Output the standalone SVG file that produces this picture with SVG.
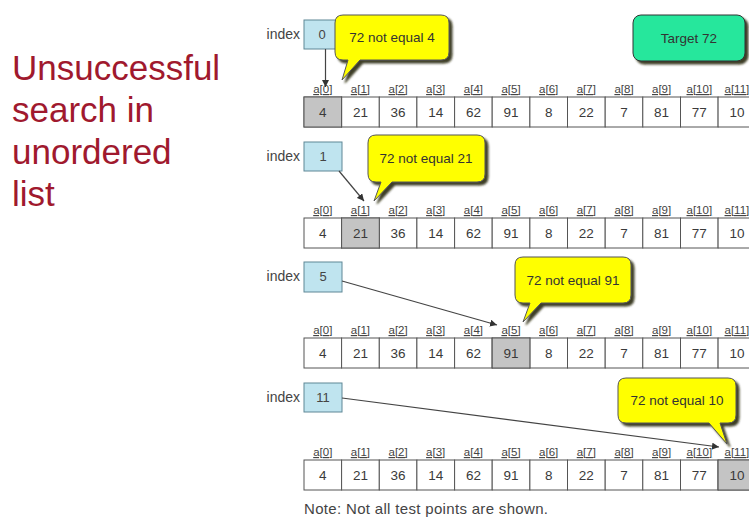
<svg xmlns="http://www.w3.org/2000/svg" xmlns:xlink="http://www.w3.org/1999/xlink" width="749" height="520" viewBox="0 0 749 520">
<style>
.title{font-family:"Liberation Sans",Arial,sans-serif;font-size:35px;fill:#a0192e}
.idx{font-family:"Liberation Sans",Arial,sans-serif;font-size:14px;fill:#444;text-anchor:end}
.ibox{fill:#bfe4ef;stroke:#5f8796;stroke-width:1}
.inum{font-family:"Liberation Sans",Arial,sans-serif;font-size:13px;fill:#444;text-anchor:middle}
.cell{fill:#fff;stroke:#555;stroke-width:1}
.hcell{fill:#c4c4c4;stroke:#555;stroke-width:1}
.num{font-family:"Liberation Sans",Arial,sans-serif;font-size:13.5px;fill:#3a3a3a;text-anchor:middle}
.lbl{font-family:"Liberation Sans",Arial,sans-serif;font-size:11.5px;fill:#444;text-anchor:middle;text-decoration:underline}
.call{fill:#ffff00;stroke:#555;stroke-width:1;filter:url(#sh)}
.ctxt{font-family:"Liberation Sans",Arial,sans-serif;font-size:13.5px;fill:#333;text-anchor:middle}
.conn{stroke:#444;stroke-width:1.2;fill:none;marker-end:url(#ah)}
.note{font-family:"Liberation Sans",Arial,sans-serif;font-size:15px;fill:#444}
</style>
<defs>
<filter id="sh" x="-10%" y="-10%" width="130%" height="140%">
<feDropShadow dx="3" dy="3" stdDeviation="0.8" flood-color="#2a2a10" flood-opacity="0.9"/>
</filter>
<marker id="ah" viewBox="0 0 10 10" refX="10" refY="5" markerWidth="7" markerHeight="7" markerUnits="userSpaceOnUse" orient="auto">
<path d="M0,0 L10,5 L0,10 z" fill="#333"/>
</marker>
<g id="arr">
<rect class="cell" x="304" y="0" width="37.6" height="30"/>
<rect class="cell" x="341.6" y="0" width="37.7" height="30"/>
<rect class="cell" x="379.3" y="0" width="37.6" height="30"/>
<rect class="cell" x="416.9" y="0" width="37.7" height="30"/>
<rect class="cell" x="454.6" y="0" width="37.6" height="30"/>
<rect class="cell" x="492.2" y="0" width="37.7" height="30"/>
<rect class="cell" x="529.9" y="0" width="37.6" height="30"/>
<rect class="cell" x="567.5" y="0" width="37.7" height="30"/>
<rect class="cell" x="605.2" y="0" width="37.6" height="30"/>
<rect class="cell" x="642.8" y="0" width="37.7" height="30"/>
<rect class="cell" x="680.5" y="0" width="37.6" height="30"/>
<rect class="cell" x="718.1" y="0" width="37.7" height="30"/>
<text class="lbl" x="322.8" y="-4">a[0]</text>
<text class="lbl" x="360.4" y="-4">a[1]</text>
<text class="lbl" x="398.1" y="-4">a[2]</text>
<text class="lbl" x="435.7" y="-4">a[3]</text>
<text class="lbl" x="473.4" y="-4">a[4]</text>
<text class="lbl" x="511" y="-4">a[5]</text>
<text class="lbl" x="548.7" y="-4">a[6]</text>
<text class="lbl" x="586.3" y="-4">a[7]</text>
<text class="lbl" x="624" y="-4">a[8]</text>
<text class="lbl" x="661.6" y="-4">a[9]</text>
<text class="lbl" x="699.3" y="-4">a[10]</text>
<text class="lbl" x="736.9" y="-4">a[11]</text>
</g>
</defs>
<rect width="749" height="520" fill="#fff"/>

<g id="title">
<text class="title" x="12" y="80">Unsuccessful</text>
<text class="title" x="12" y="122">search in</text>
<text class="title" x="12" y="164">unordered</text>
<text class="title" x="12" y="206">list</text>
</g>

<!-- Row 1 -->
<g id="array1" transform="translate(0,97)">
<use xlink:href="#arr"/>
<rect class="hcell" x="304" y="0" width="37.6" height="30"/>
<text class="num" x="322.8" y="20">4</text><text class="num" x="360.4" y="20">21</text><text class="num" x="398.1" y="20">36</text><text class="num" x="435.7" y="20">14</text><text class="num" x="473.4" y="20">62</text><text class="num" x="511" y="20">91</text><text class="num" x="548.7" y="20">8</text><text class="num" x="586.3" y="20">22</text><text class="num" x="624" y="20">7</text><text class="num" x="661.6" y="20">81</text><text class="num" x="699.3" y="20">77</text><text class="num" x="736.9" y="20">10</text>
</g>
<g id="index1">
<text class="idx" x="300" y="39">index</text>
<rect class="ibox" x="304" y="20" width="38" height="29"/>
<text class="inum" x="322" y="39">0</text>
</g>

<!-- Row 2 -->
<g id="array2" transform="translate(0,218)">
<use xlink:href="#arr"/>
<rect class="hcell" x="341.6" y="0" width="37.7" height="30"/>
<text class="num" x="322.8" y="20">4</text><text class="num" x="360.4" y="20">21</text><text class="num" x="398.1" y="20">36</text><text class="num" x="435.7" y="20">14</text><text class="num" x="473.4" y="20">62</text><text class="num" x="511" y="20">91</text><text class="num" x="548.7" y="20">8</text><text class="num" x="586.3" y="20">22</text><text class="num" x="624" y="20">7</text><text class="num" x="661.6" y="20">81</text><text class="num" x="699.3" y="20">77</text><text class="num" x="736.9" y="20">10</text>
</g>
<g id="index2">
<text class="idx" x="300" y="161">index</text>
<rect class="ibox" x="304" y="142" width="38" height="29"/>
<text class="inum" x="323" y="161">1</text>
</g>

<!-- Row 3 -->
<g id="array3" transform="translate(0,338)">
<use xlink:href="#arr"/>
<rect class="hcell" x="492.2" y="0" width="37.7" height="30"/>
<text class="num" x="322.8" y="20">4</text><text class="num" x="360.4" y="20">21</text><text class="num" x="398.1" y="20">36</text><text class="num" x="435.7" y="20">14</text><text class="num" x="473.4" y="20">62</text><text class="num" x="511" y="20">91</text><text class="num" x="548.7" y="20">8</text><text class="num" x="586.3" y="20">22</text><text class="num" x="624" y="20">7</text><text class="num" x="661.6" y="20">81</text><text class="num" x="699.3" y="20">77</text><text class="num" x="736.9" y="20">10</text>
</g>
<g id="index3">
<text class="idx" x="300" y="281">index</text>
<rect class="ibox" x="304" y="262" width="38" height="30"/>
<text class="inum" x="323" y="281">5</text>
</g>

<!-- Row 4 -->
<g id="array4" transform="translate(0,460)">
<use xlink:href="#arr"/>
<rect class="hcell" x="718.1" y="0" width="37.7" height="30"/>
<text class="num" x="322.8" y="20">4</text><text class="num" x="360.4" y="20">21</text><text class="num" x="398.1" y="20">36</text><text class="num" x="435.7" y="20">14</text><text class="num" x="473.4" y="20">62</text><text class="num" x="511" y="20">91</text><text class="num" x="548.7" y="20">8</text><text class="num" x="586.3" y="20">22</text><text class="num" x="624" y="20">7</text><text class="num" x="661.6" y="20">81</text><text class="num" x="699.3" y="20">77</text><text class="num" x="736.9" y="20">10</text>
</g>
<g id="index4">
<text class="idx" x="300" y="402">index</text>
<rect class="ibox" x="304" y="383" width="38" height="29"/>
<text class="inum" x="323" y="402">11</text>
</g>

<g id="connectors">
<line class="conn" x1="325.5" y1="49" x2="325.5" y2="87"/>
<line class="conn" x1="339" y1="171" x2="364" y2="201"/>
<line class="conn" x1="342" y1="281" x2="497" y2="325"/>
<line class="conn" x1="342" y1="398" x2="719" y2="447"/>
</g>

<g id="callout1">
<path class="call" d="M343,15 H441 Q449,15 449,23 V52 Q449,60 441,60 H360 L342,80 L348,60 H343 Q335,60 335,52 V23 Q335,15 343,15 Z"/>
<text class="ctxt" x="392" y="42">72 not equal 4</text>
</g>
<g id="callout2">
<path class="call" d="M376,135 H477 Q485,135 485,143 V174 Q485,182 477,182 H392 L374,201 L381,182 H376 Q368,182 368,174 V143 Q368,135 376,135 Z"/>
<text class="ctxt" x="426" y="163">72 not equal 21</text>
</g>
<g id="callout3">
<path class="call" d="M523,257 H623 Q631,257 631,265 V295 Q631,303 623,303 H541 L523,322 L530,303 H523 Q515,303 515,295 V265 Q515,257 523,257 Z"/>
<text class="ctxt" x="573" y="285">72 not equal 91</text>
</g>
<g id="callout4">
<path class="call" d="M626,378 H728 Q736,378 736,386 V415 Q736,423 728,423 H720 L727,444 L709,423 H626 Q618,423 618,415 V386 Q618,378 626,378 Z"/>
<text class="ctxt" x="677" y="405">72 not equal 10</text>
</g>

<g id="target">
<rect x="633" y="15" width="112" height="46" rx="8" ry="8" fill="#27e79c" stroke="#333" stroke-width="1" filter="url(#sh)"/>
<text class="ctxt" x="689" y="43">Target 72</text>
</g>

<text class="note" x="304" y="514" textLength="244" lengthAdjust="spacing">Note: Not all test points are shown.</text>
</svg>
